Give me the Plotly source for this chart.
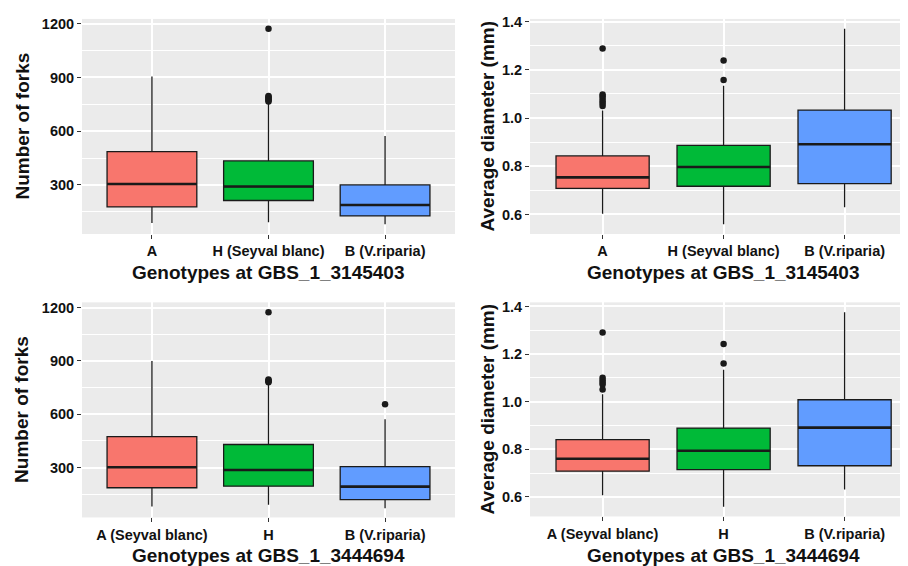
import plotly.graph_objects as go

# ---------------- data ----------------
cats_3145403 = ["A", "H (Seyval blanc)", "B (V.riparia)"]
cats_3444694 = ["A (Seyval blanc)", "H", "B (V.riparia)"]

# Number of forks, GBS_1_3145403
forks1_low = [87, 92, 81]
forks1_q1 = [177, 213, 127]
forks1_med = [305, 291, 188]
forks1_q3 = [486, 434, 300]
forks1_high = [905, 755, 574]
forks1_out = [[], [1172, 797, 791, 785, 779, 773, 766], []]

# Average diameter, GBS_1_3145403
diam1_low = [0.603, 0.559, 0.630]
diam1_q1 = [0.708, 0.717, 0.728]
diam1_med = [0.754, 0.797, 0.891]
diam1_q3 = [0.843, 0.887, 1.033]
diam1_high = [1.031, 1.134, 1.370]
diam1_out = [[1.288, 1.098, 1.090, 1.080, 1.070, 1.060, 1.050], [1.239, 1.158], []]

# Number of forks, GBS_1_3444694
forks2_low = [81, 91, 72]
forks2_q1 = [187, 196, 120]
forks2_med = [302, 287, 193]
forks2_q3 = [474, 430, 306]
forks2_high = [900, 768, 572]
forks2_out = [[], [1174, 796, 790, 785, 780], [657]]

# Average diameter, GBS_1_3444694
diam2_low = [0.607, 0.559, 0.631]
diam2_q1 = [0.708, 0.715, 0.731]
diam2_med = [0.760, 0.794, 0.891]
diam2_q3 = [0.841, 0.889, 1.008]
diam2_high = [1.031, 1.134, 1.376]
diam2_out = [[1.291, 1.100, 1.090, 1.080, 1.072, 1.051], [1.242, 1.160], []]

forks_ticks = [300, 600, 900, 1200]
diam_ticks = [0.6, 0.8, 1.0, 1.2, 1.4]

x_title_top = "Genotypes at GBS_1_3145403"
x_title_bottom = "Genotypes at GBS_1_3444694"
y_title_forks = "Number of forks"
y_title_diam = "Average diameter (mm)"

# ---------------- style ----------------
FILLS = ["#F8766D", "#00BA38", "#619CFF"]
FONT = "Liberation Sans, Arial, sans-serif"
BOX_W = 0.77
OFF = 8                      # page body margin
W, H = 908 - OFF, 566 - OFF  # figure size inside the window

panels = [
    dict(ax="1", cats=cats_3145403, low=forks1_low, q1=forks1_q1, med=forks1_med,
         q3=forks1_q3, high=forks1_high, out=forks1_out, ticks=forks_ticks,
         fmt="d", minor=150, yrange=[26, 1227], xpx=(82, 455), ypx=(14, 231),
         xr=[-0.6, 2.6], xtitle=x_title_top, ytitle=y_title_forks, ytx=22, xty=270),
    dict(ax="2", cats=cats_3145403, low=diam1_low, q1=diam1_q1, med=diam1_med,
         q3=diam1_q3, high=diam1_high, out=diam1_out, ticks=diam_ticks,
         fmt=".1f", minor=0.1, yrange=[0.519, 1.411], xpx=(530, 908), ypx=(14, 231),
         xr=[-0.6, 2.524], xtitle=x_title_top, ytitle=y_title_diam, ytx=487, xty=270),
    dict(ax="3", cats=cats_3444694, low=forks2_low, q1=forks2_q1, med=forks2_med,
         q3=forks2_q3, high=forks2_high, out=forks2_out, ticks=forks_ticks,
         fmt="d", minor=150, yrange=[20, 1229], xpx=(82, 455), ypx=(300, 517),
         xr=[-0.6, 2.6], xtitle=x_title_bottom, ytitle=y_title_forks, ytx=22, xty=555),
    dict(ax="4", cats=cats_3444694, low=diam2_low, q1=diam2_q1, med=diam2_med,
         q3=diam2_q3, high=diam2_high, out=diam2_out, ticks=diam_ticks,
         fmt=".1f", minor=0.1, yrange=[0.518, 1.417], xpx=(530, 908), ypx=(300, 516),
         xr=[-0.6, 2.524], xtitle=x_title_bottom, ytitle=y_title_diam, ytx=487, xty=555),
]

fig = go.Figure()
annotations = []
layout_axes = {}

for p in panels:
    a = p["ax"]
    xref = "x" if a == "1" else "x" + a
    yref = "y" if a == "1" else "y" + a
    pos = list(range(len(p["cats"])))
    for i in pos:
        fig.add_trace(go.Box(
            x=[i], q1=[p["q1"][i]], median=[p["med"][i]], q3=[p["q3"][i]],
            lowerfence=[p["low"][i]], upperfence=[p["high"][i]],
            width=BOX_W, whiskerwidth=0, boxpoints=False,
            fillcolor=FILLS[i], line=dict(color="#1a1a1a", width=1.3),
            xaxis=xref, yaxis=yref, showlegend=False, hoverinfo="skip"))
        # thicker median line (ggplot style)
        fig.add_trace(go.Scatter(
            x=[i - BOX_W / 2, i + BOX_W / 2], y=[p["med"][i], p["med"][i]],
            mode="lines", line=dict(color="#1a1a1a", width=2.6),
            xaxis=xref, yaxis=yref, showlegend=False, hoverinfo="skip"))
        if p["out"][i]:
            fig.add_trace(go.Scatter(
                x=[i] * len(p["out"][i]), y=p["out"][i], mode="markers",
                marker=dict(color="#1a1a1a", size=6.5),
                xaxis=xref, yaxis=yref, showlegend=False, hoverinfo="skip"))

    x0, x1 = [v - OFF for v in p["xpx"]]
    y0, y1 = [v - OFF for v in p["ypx"]]
    xkey = "xaxis" if a == "1" else "xaxis" + a
    ykey = "yaxis" if a == "1" else "yaxis" + a
    layout_axes[xkey] = dict(
        domain=[x0 / W, min(x1 / W, 1.0)], range=p["xr"], anchor=yref,
        tickmode="array", tickvals=pos, ticktext=p["cats"],
        showgrid=True, gridcolor="white", gridwidth=1.6, zeroline=False,
        ticks="outside", ticklen=4, tickwidth=1, tickcolor="#333333",
        tickfont=dict(family=FONT, size=14.5, color="#111111", weight="bold"),
        showline=False, fixedrange=True)
    layout_axes[ykey] = dict(
        domain=[1 - y1 / H, 1 - y0 / H], range=p["yrange"], anchor=xref,
        tickmode="array", tickvals=p["ticks"], tickformat=p["fmt"],
        showgrid=True, gridcolor="white", gridwidth=1.6, zeroline=False,
        minor=dict(tickmode="linear", tick0=0, dtick=p["minor"], showgrid=True,
                   gridcolor="white", gridwidth=0.8, ticks=""),
        ticks="outside", ticklen=4, tickwidth=1, tickcolor="#333333",
        tickfont=dict(family=FONT, size=14.5, color="#111111", weight="bold"),
        showline=False, fixedrange=True)
    annotations.append(dict(
        text=p["xtitle"], xref=xref, x=1, yref="paper", y=1 - (p["xty"] - OFF) / H,
        xanchor="center", yanchor="middle", showarrow=False,
        font=dict(family=FONT, size=19, color="#111111", weight="bold")))
    annotations.append(dict(
        text=p["ytitle"], xref="paper", x=(p["ytx"] - OFF) / W, yref="paper",
        y=1 - (y0 + y1) / 2 / H, textangle=-90,
        xanchor="center", yanchor="middle", showarrow=False,
        font=dict(family=FONT, size=19, color="#111111", weight="bold")))

fig.update_layout(
    width=W, height=H, margin=dict(l=0, r=0, t=0, b=0),
    paper_bgcolor="white", plot_bgcolor="#EBEBEB",
    annotations=annotations, showlegend=False, **layout_axes)

fig.write_html("out.html")
